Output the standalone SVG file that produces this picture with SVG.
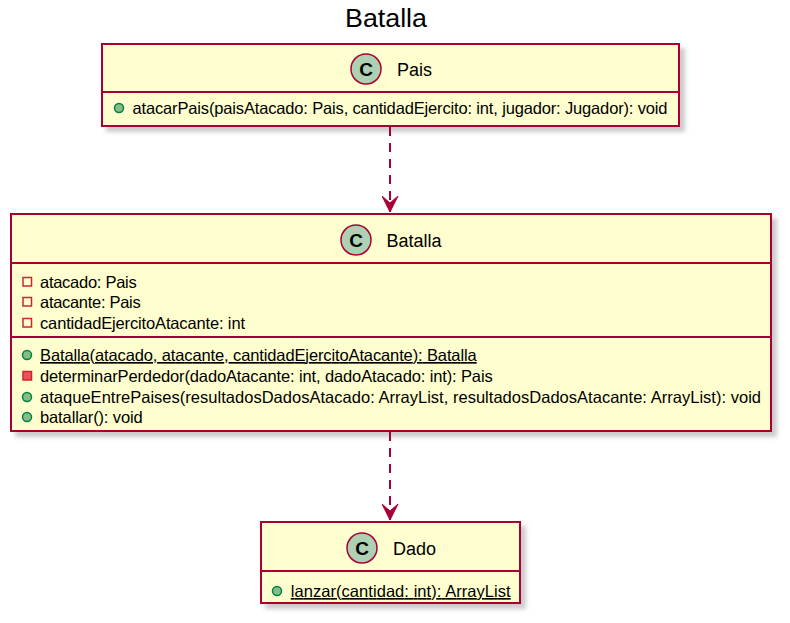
<svg xmlns="http://www.w3.org/2000/svg" width="790" height="623" viewBox="0 0 790 623">
<defs>
<filter id="sh" x="-10%" y="-10%" width="130%" height="140%">
<feGaussianBlur in="SourceAlpha" stdDeviation="2.2"/>
<feOffset dx="5" dy="5" result="b"/>
<feColorMatrix in="b" type="matrix" values="0 0 0 0 0.4  0 0 0 0 0.4  0 0 0 0 0.4  0 0 0 0.6 0"/>
<feMerge><feMergeNode/><feMergeNode in="SourceGraphic"/></feMerge>
</filter>
<marker id="arr" markerWidth="18" markerHeight="18" refX="8" refY="16" orient="0" markerUnits="userSpaceOnUse" viewBox="0 0 18 18">
<path d="M0,0 L8,16 L16,0 L8,7 Z" fill="#A80036" stroke="#A80036" stroke-width="1"/>
</marker>
</defs>
<style>
.box{fill:#FEFECE;stroke:#A80036;stroke-width:2}
.div{stroke:#A80036;stroke-width:2}
.ci{fill:#ADD1B2;stroke:#A80036;stroke-width:1.5}
.cl{font-family:"Liberation Sans",Arial,sans-serif;font-size:18px;fill:#000}
.m{font-family:"Liberation Sans",Arial,sans-serif;font-size:16.5px;fill:#000}
.u{text-decoration:underline}
.pub{fill:#84BE84;stroke:#038048;stroke-width:1.5}
.pf{fill:none;stroke:#C82930;stroke-width:1.5}
.pm{fill:#F24D5C;stroke:#C82930;stroke-width:1.5}
.cc{font-family:"Liberation Sans",Arial,sans-serif;font-size:19px;font-weight:bold;fill:#000}
.edge{stroke:#A80036;stroke-width:2;fill:none;stroke-dasharray:9,7}
</style>
<text x="345" y="27" textLength="82" lengthAdjust="spacingAndGlyphs" font-family="Liberation Sans,Arial,sans-serif" font-size="25" fill="#000">Batalla</text>

<g id="Pais">
<rect class="box" x="102" y="44" width="577" height="82" filter="url(#sh)"/>
<line class="div" x1="102" y1="92" x2="679" y2="92"/>
<circle class="ci" cx="366" cy="69" r="15"/>
<text class="cc" x="366" y="75.5" text-anchor="middle">C</text>
<text class="cl" x="397" y="75.5">Pais</text>
<circle class="pub" cx="119" cy="108" r="4.5"/>
<text class="m" x="132.5" y="114" textLength="535" lengthAdjust="spacing">atacarPais(paisAtacado: Pais, cantidadEjercito: int, jugador: Jugador): void</text>
</g>

<g id="Batalla">
<rect class="box" x="11" y="214" width="760" height="217" filter="url(#sh)"/>
<line class="div" x1="11" y1="263" x2="771" y2="263"/>
<line class="div" x1="11" y1="337" x2="771" y2="337"/>
<circle class="ci" cx="356" cy="240" r="15"/>
<text class="cc" x="356" y="246.5" text-anchor="middle">C</text>
<text class="cl" x="386.5" y="246.5">Batalla</text>
<rect class="pf" x="23" y="277.5" width="8.5" height="8.5"/>
<text class="m" x="40" y="287.5" textLength="96.7" lengthAdjust="spacing">atacado: Pais</text>
<rect class="pf" x="23" y="297.5" width="8.5" height="8.5"/>
<text class="m" x="40" y="307.5" textLength="100.7" lengthAdjust="spacing">atacante: Pais</text>
<rect class="pf" x="23" y="318.5" width="8.5" height="8.5"/>
<text class="m" x="40" y="328.5" textLength="205" lengthAdjust="spacing">cantidadEjercitoAtacante: int</text>
<circle class="pub" cx="27" cy="355" r="4.5"/>
<text class="m u" x="40" y="361" textLength="436.7" lengthAdjust="spacing">Batalla(atacado, atacante, cantidadEjercitoAtacante): Batalla</text>
<rect class="pm" x="23" y="371.5" width="8.5" height="8.5"/>
<text class="m" x="40" y="381.5" textLength="452.7" lengthAdjust="spacing">determinarPerdedor(dadoAtacante: int, dadoAtacado: int): Pais</text>
<circle class="pub" cx="27" cy="397" r="4.5"/>
<text class="m" x="40" y="402.5" textLength="721" lengthAdjust="spacing">ataqueEntrePaises(resultadosDadosAtacado: ArrayList, resultadosDadosAtacante: ArrayList): void</text>
<circle class="pub" cx="27" cy="417" r="4.5"/>
<text class="m" x="40" y="423" textLength="102.7" lengthAdjust="spacing">batallar(): void</text>
</g>

<g id="Dado">
<rect class="box" x="261" y="522" width="259" height="81" filter="url(#sh)"/>
<line class="div" x1="261" y1="571" x2="520" y2="571"/>
<circle class="ci" cx="362" cy="548" r="15"/>
<text class="cc" x="362" y="554.5" text-anchor="middle">C</text>
<text class="cl" x="393" y="555">Dado</text>
<circle class="pub" cx="277" cy="591" r="4.5"/>
<text class="m u" x="290.7" y="597" textLength="220" lengthAdjust="spacing">lanzar(cantidad: int): ArrayList</text>
</g>

<g id="connectors">
<line class="edge" x1="390" y1="127" x2="390" y2="212" marker-end="url(#arr)"/>
<line class="edge" x1="390" y1="432" x2="390" y2="520" marker-end="url(#arr)"/>
</g>
</svg>
